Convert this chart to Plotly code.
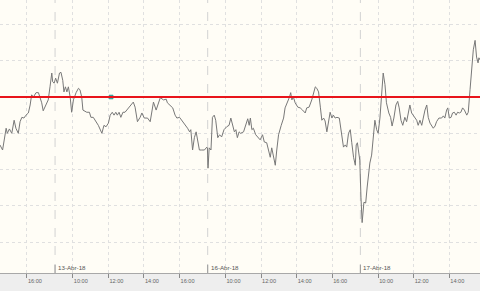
import plotly.graph_objects as go

# ---- data: trading minutes since 13-Abr-18 09:00 (sessions 09:00-17:35 = 515 min) ----
T_D12 = [-186, -177, -165, -161, -154, -146, -138, -132, -124, -118, -112, -105, -98, -90,
         -84, -79, -73, -64, -56, -51, -45, -40, -30, -23, -17, -11, -8, -3]
P_D12 = [9.934, 9.927, 9.957, 9.950, 9.956, 9.950, 9.968, 9.957, 9.950, 9.966, 9.972, 9.971,
         9.975, 9.978, 9.989, 10.003, 10.000, 10.006, 10.006, 10.000, 9.992, 9.981, 9.989,
         9.996, 10.014, 10.033, 10.021, 10.019]

T_D13 = [2, 8, 15, 20, 26, 30, 35, 40, 45, 51, 56, 62, 71, 79, 84, 90, 94, 107, 116, 121,
         129, 138, 146, 158, 165, 172, 180, 186, 193, 199, 205, 210, 216, 222, 229, 236, 248,
         259, 264, 270, 278, 287, 293, 301, 312, 321, 327, 332, 341, 349, 355, 366, 375, 379,
         388, 397, 405, 411, 420, 428, 439, 447, 454, 458, 464, 470, 476, 482, 487, 495, 504,
         512, 514]
P_D13 = [10.026, 10.019, 10.033, 10.034, 10.023, 10.007, 10.014, 10.007, 10.014, 10.000,
         9.979, 9.996, 10.006, 10.012, 10.010, 10.000, 9.982, 9.979, 9.979, 9.972,
         9.972, 9.966, 9.961, 9.950, 9.961, 9.959, 9.964, 9.975, 9.979, 9.975,
         9.979, 9.975, 9.979, 9.972, 9.979, 9.979, 9.985, 9.989, 9.993, 9.986,
         9.966, 9.972, 9.978, 9.971, 9.971, 9.966, 9.978, 9.993, 9.982, 9.993,
         9.999, 9.996, 9.997, 9.992, 9.989, 9.985, 9.975, 9.971, 9.972, 9.968,
         9.961, 9.957, 9.952, 9.955, 9.927, 9.944, 9.952, 9.937, 9.927, 9.927,
         9.927, 9.931, 9.930]

T_D16 = [516, 520, 526, 531, 537, 542, 549, 555, 562, 570, 579, 587, 593, 598, 605, 610, 615,
         621, 626, 636, 643, 650, 655, 659, 664, 669, 677, 684, 692, 700, 706, 714, 720, 726,
         731, 737, 743, 748, 754, 763, 771, 776, 785, 791, 795, 799, 804, 810, 819, 827, 835,
         844, 849, 857, 866, 872, 878, 883, 889, 895, 900, 906, 911, 917, 923, 928, 934, 939,
         945, 951, 959, 965, 973, 979, 984, 990, 996, 1001, 1007, 1013, 1016, 1020, 1028]
P_D16 = [9.902, 9.930, 9.927, 9.972, 9.975, 9.968, 9.944, 9.948, 9.945, 9.955,
         9.959, 9.961, 9.971, 9.961, 9.952, 9.955, 9.944, 9.952, 9.950, 9.952,
         9.961, 9.970, 9.961, 9.971, 9.955, 9.957, 9.948, 9.944, 9.941, 9.948,
         9.938, 9.937, 9.927, 9.917, 9.930, 9.917, 9.906, 9.927, 9.948, 9.961,
         9.971, 9.985, 9.993, 10.000, 10.006, 9.996, 10.000, 9.992, 9.986, 9.985,
         9.982, 9.978, 9.985, 9.986, 9.996, 10.007, 10.014, 10.012, 10.007, 9.986,
         9.968, 9.971, 9.967, 9.952, 9.971, 9.979, 9.971, 9.975, 9.971, 9.972,
         9.971, 9.955, 9.931, 9.934, 9.931, 9.950, 9.955, 9.937, 9.917, 9.906,
         9.934, 9.937, 9.913]

T_D17 = [1032, 1036, 1042, 1048, 1053, 1062, 1068, 1073, 1079, 1085, 1090, 1096, 1102, 1107,
         1113, 1118, 1126, 1132, 1137, 1143, 1150, 1156, 1161, 1167, 1173, 1180, 1186, 1191,
         1197, 1203, 1208, 1214, 1220, 1225, 1231, 1237, 1242, 1248, 1254, 1259, 1265, 1270,
         1276, 1282, 1287, 1295, 1304, 1310, 1315, 1321, 1325, 1330, 1336, 1341, 1347, 1353,
         1358, 1364, 1369, 1375, 1381, 1389, 1394, 1400, 1406, 1411, 1417, 1422, 1427, 1430,
         1434]
P_D17 = [9.862, 9.827, 9.855, 9.854, 9.876, 9.909, 9.920, 9.941, 9.968, 9.955,
         9.950, 9.971, 10.000, 10.033, 10.017, 9.992, 9.978, 9.972, 9.960, 9.971,
         9.989, 9.994, 9.985, 9.968, 9.961, 9.972, 9.966, 9.979, 9.989, 9.978,
         9.975, 9.971, 9.968, 9.961, 9.968, 9.961, 9.972, 9.982, 9.989, 9.972,
         9.964, 9.961, 9.957, 9.960, 9.966, 9.971, 9.971, 9.974, 9.971, 9.982,
         9.985, 9.971, 9.972, 9.978, 9.979, 9.975, 9.979, 9.978, 9.979, 9.985,
         9.982, 9.975, 9.979, 10.010, 10.037, 10.065, 10.078, 10.055, 10.047, 10.054,
         10.051]

REF_LEVEL = 10.00
MARKER_T = [189]
MARKER_P = [10.00]

DAY_LABELS = ["13-Abr-18", "16-Abr-18", "17-Abr-18"]
DAY_SESSION_INDEX = [0, 1, 2]
# (session index relative to 13-Abr, tick label)
TICK_SESSION = [-1, 0, 0, 0, 0, 1, 1, 1, 1, 2, 2, 2]
TICK_TEXT = ["16:00", "10:00", "12:00", "14:00", "16:00", "10:00", "12:00", "14:00",
             "16:00", "10:00", "12:00", "14:00"]
Y_GRID = [9.80, 9.85, 9.90, 9.95, 10.00, 10.05, 10.10]

SESSION_MIN = 515  # 09:00 - 17:35


def to_min(session, hhmm):
    h, m = map(int, hhmm.split(":"))
    return session * SESSION_MIN + (h - 9) * 60 + m


tick_vals = [to_min(s, t) for s, t in zip(TICK_SESSION, TICK_TEXT)]
sep_vals = [s * SESSION_MIN for s in DAY_SESSION_INDEX]

t_all = T_D12 + T_D13 + T_D16 + T_D17
p_all = P_D12 + P_D13 + P_D16 + P_D17

fig = go.Figure()
fig.add_trace(go.Scatter(x=t_all, y=p_all, mode="lines",
                         line=dict(color="#787878", width=1), hoverinfo="skip"))
fig.add_hline(y=REF_LEVEL, line=dict(color="#e8141b", width=2), layer="above")
fig.add_trace(go.Scatter(x=MARKER_T, y=MARKER_P, mode="markers",
                         marker=dict(symbol="square", size=4, color="#35b5b0",
                                     line=dict(color="#2a8f8a", width=0.5))))

for xv, lab in zip(sep_vals, DAY_LABELS):
    fig.add_shape(type="line", x0=xv, x1=xv, yref="paper", y0=0, y1=1,
                  line=dict(color="#d2d2d2", width=1, dash="dash"), layer="below")
    fig.add_shape(type="line", x0=xv, x1=xv, yref="paper", y0=0, y1=0.03,
                  line=dict(color="#9a9a9a", width=1))
    fig.add_annotation(x=xv, y=0, yref="paper", text=lab, showarrow=False,
                       xanchor="left", yanchor="bottom", xshift=1, yshift=0,
                       font=dict(family="Liberation Sans", size=6.2, color="#555555"))

fig.update_layout(
    width=480, height=291,
    margin=dict(l=0, r=0, t=0, b=18),
    paper_bgcolor="#eeeeee",
    plot_bgcolor="#fffdf6",
    showlegend=False,
    xaxis=dict(range=[-185.7, 1433.6], tickvals=tick_vals, ticktext=TICK_TEXT,
               showgrid=True, gridcolor="#e0e0e0", griddash="dot", gridwidth=1,
               ticks="outside", ticklen=4, tickcolor="#8a8a8a", tickwidth=1,
               ticklabelshift=8, ticklabelstandoff=-2,
               tickfont=dict(family="Liberation Sans", size=5.6, color="#666666"),
               showline=True, linecolor="#a8a8a8", linewidth=1, zeroline=False,
               fixedrange=True),
    yaxis=dict(range=[9.7576, 10.1336], tickvals=Y_GRID, showticklabels=False,
               showgrid=True, gridcolor="#e0e0e0", griddash="dot", gridwidth=1,
               zeroline=False, showline=False, fixedrange=True),
)

fig.write_html("out.html", config={"displayModeBar": False})
